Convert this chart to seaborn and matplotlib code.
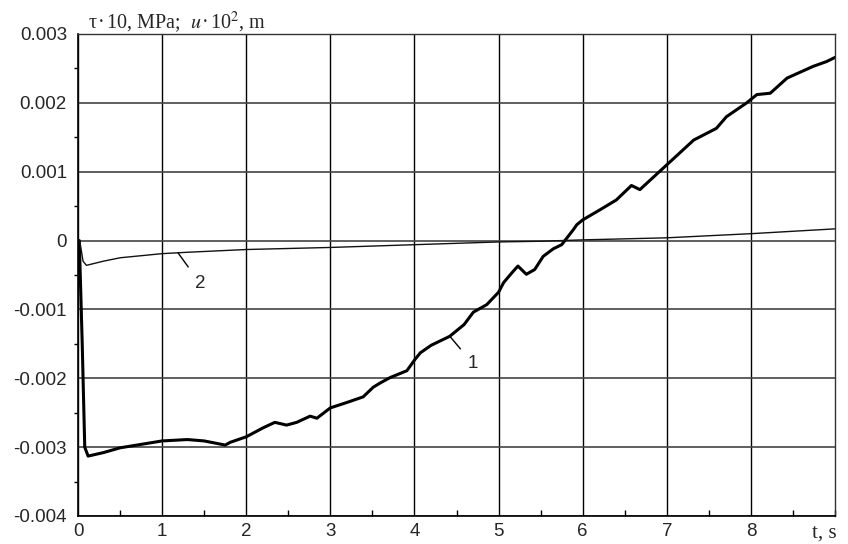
import numpy as np
import pandas as pd
import seaborn as sns
import matplotlib
matplotlib.use("Agg")
from matplotlib import pyplot as plt
from matplotlib.ticker import MultipleLocator

# curve 1 (displacement, thick noisy line)
t_1 = [0.0, 0.015, 0.05, 0.08, 0.12, 0.3, 0.5, 0.75, 1.0, 1.3, 1.5, 1.75, 1.81,
       2.0, 2.2, 2.34, 2.48, 2.6, 2.76, 2.84, 3.0, 3.2, 3.39, 3.51, 3.59, 3.71,
       3.91, 4.01, 4.07, 4.2, 4.42, 4.59, 4.70, 4.86, 5.0, 5.06, 5.15, 5.23,
       5.33, 5.43, 5.53, 5.65, 5.75, 5.89, 5.93, 6.0, 6.21, 6.40, 6.58, 6.68,
       7.0, 7.32, 7.59, 7.71, 7.95, 8.07, 8.23, 8.43, 8.74, 8.90, 9.0]
v_1 = [0.0, 0.0, -0.0015, -0.0030, -0.00313, -0.00308, -0.00301, -0.00296,
       -0.00291, -0.00289, -0.00291, -0.00297, -0.00293, -0.00285, -0.00272,
       -0.00264, -0.00268, -0.00264, -0.00255, -0.00258, -0.00243, -0.00235,
       -0.00227, -0.00213, -0.00207, -0.00199, -0.00189, -0.00172, -0.00163,
       -0.00152, -0.00139, -0.00122, -0.00104, -0.00093, -0.00075, -0.00061,
       -0.00048, -0.00037, -0.00049, -0.00042, -0.00023, -0.00012, -0.00006,
       0.00016, 0.00023, 0.0003, 0.00045, 0.00059, 0.0008, 0.00074, 0.0011,
       0.00146, 0.00163, 0.0018, 0.002, 0.00212, 0.00214, 0.00236, 0.00253,
       0.0026, 0.00266]

# curve 2 (stress, thin line)
t_2 = [0.0, 0.02, 0.06, 0.1, 0.3, 0.5, 1.0, 1.3, 2.0, 3.0, 4.0, 5.0, 5.5,
       6.0, 7.0, 8.0, 9.0]
v_2 = [0.0, 0.0, -0.0003, -0.00036, -0.0003, -0.00025, -0.00019, -0.00017,
       -0.00013, -0.0001, -0.00006, -0.00002, -0.00001, 0.00001, 0.00004,
       0.0001, 0.00017]

x_ticks = [0, 1, 2, 3, 4, 5, 6, 7, 8]
y_ticks = [-0.004, -0.003, -0.002, -0.001, 0, 0.001, 0.002, 0.003]
y_labels = ["-0.004", "-0.003", "-0.002", "-0.001", "0", "0.001", "0.002", "0.003"]

df1 = pd.DataFrame({"t": t_1, "v": v_1})
df2 = pd.DataFrame({"t": t_2, "v": v_2})

sns.set_theme(style="white")
plt.rcParams["font.family"] = ["Liberation Sans", "DejaVu Sans"]
plt.rcParams["mathtext.fontset"] = "stix"
plt.rcParams["axes.unicode_minus"] = False

fig = plt.figure(figsize=(8.48, 5.44), dpi=100)
ax = fig.add_axes([0.092, 0.0515, 0.8927, 0.886])

sns.lineplot(data=df1, x="t", y="v", ax=ax, color="black", linewidth=2.2,
             sort=False, estimator=None)
sns.lineplot(data=df2, x="t", y="v", ax=ax, color="#111111", linewidth=1.0,
             sort=False, estimator=None)

ax.set_xlim(0, 9)
ax.set_ylim(-0.004, 0.003)
ax.set_xticks(x_ticks)
ax.set_xticklabels([str(v) for v in x_ticks])
ax.set_yticks(y_ticks)
ax.set_yticklabels(y_labels)
ax.xaxis.set_minor_locator(MultipleLocator(0.5))
ax.yaxis.set_minor_locator(MultipleLocator(0.0005))
ax.tick_params(axis="x", which="major", labelsize=13.5, color="black",
               direction="out", length=4, width=1, pad=1)
ax.tick_params(axis="y", which="major", labelsize=13.5, color="black",
               direction="out", length=7, width=1, pad=1)
ax.tick_params(axis="x", which="minor", direction="in", length=4, width=1,
               color="black", bottom=True)
ax.tick_params(axis="y", which="minor", direction="out", length=3, width=1,
               color="black", left=True)
ax.set_xlabel("")
ax.set_ylabel("")

ax.grid(True, axis="x", color="black", linewidth=1.0)
ax.grid(True, axis="y", color="#444444", linewidth=1.2)
ax.set_axisbelow(True)
for side in ["top", "right"]:
    ax.spines[side].set_color("#333333")
    ax.spines[side].set_linewidth(1.0)
for side in ["left", "bottom"]:
    ax.spines[side].set_color("black")
    ax.spines[side].set_linewidth(1.2)

# curve labels with leader lines
ax.annotate("1", xy=(4.42, -0.00139), xytext=(4.69, -0.00178), fontsize=13.5,
            ha="center", va="center",
            arrowprops=dict(arrowstyle="-", color="black", lw=1.0,
                            shrinkA=4, shrinkB=0))
ax.annotate("2", xy=(1.19, -0.00018), xytext=(1.45, -0.00062), fontsize=13.5,
            ha="center", va="center",
            arrowprops=dict(arrowstyle="-", color="black", lw=1.0,
                            shrinkA=4, shrinkB=0))

fig.text(88 / 848, 1 - 28 / 544, "τ\u200a·\u200a10, MPa;  $u$\u200a·\u200a10$^2$, m",
         fontsize=14.5, family=["Liberation Serif", "DejaVu Serif"],
         va="baseline", ha="left")
fig.text(812 / 848, 1 - 538 / 544, "t, s", fontsize=15,
         family="Liberation Serif", va="baseline", ha="left")

fig.savefig("out.png", dpi=100)
